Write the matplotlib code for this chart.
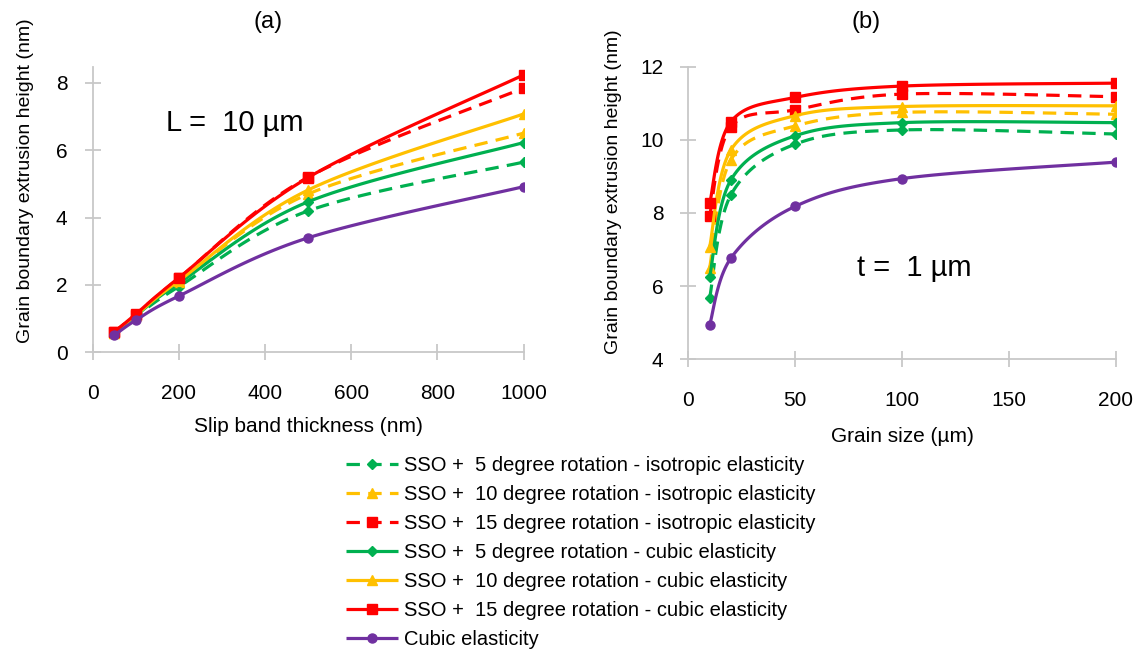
import numpy as np
import matplotlib
matplotlib.use("Agg")
import matplotlib.pyplot as plt

plt.rcParams['font.family'] = ['Liberation Sans', 'DejaVu Sans']

# (a) slip band thickness, L = 10 um
thickness = [50, 100, 200, 500, 1000]
a_iso5 = [0.55, 1.05, 1.95, 4.20, 5.65]
a_iso10 = [0.58, 1.10, 2.10, 4.70, 6.51]
a_iso15 = [0.60, 1.12, 2.20, 5.20, 7.85]
a_cub5 = [0.56, 1.08, 2.05, 4.47, 6.23]
a_cub10 = [0.58, 1.10, 2.12, 4.82, 7.08]
a_cub15 = [0.60, 1.13, 2.21, 5.19, 8.24]
a_cubic = [0.50, 0.95, 1.67, 3.40, 4.92]

# (b) grain size, t = 1 um
grain = [10, 20, 50, 100, 200]
b_iso5 = [5.68, 8.50, 9.88, 10.27, 10.16]
b_iso10 = [6.50, 9.46, 10.38, 10.75, 10.70]
b_iso15 = [7.93, 10.36, 10.82, 11.25, 11.18]
b_cub5 = [6.25, 8.91, 10.11, 10.47, 10.47]
b_cub10 = [7.07, 9.73, 10.66, 10.91, 10.93]
b_cub15 = [8.26, 10.50, 11.16, 11.47, 11.55]
b_cubic = [4.94, 6.77, 8.18, 8.94, 9.39]

labels = ['SSO +  5 degree rotation - isotropic elasticity',
          'SSO +  10 degree rotation - isotropic elasticity',
          'SSO +  15 degree rotation - isotropic elasticity',
          'SSO +  5 degree rotation - cubic elasticity',
          'SSO +  10 degree rotation - cubic elasticity',
          'SSO +  15 degree rotation - cubic elasticity',
          'Cubic elasticity']
colors = ['#00B050', '#FFC000', '#FF0000', '#00B050', '#FFC000', '#FF0000', '#7030A0']
markers = ['D', '^', 's', 'D', '^', 's', 'o']
msizes = [5, 7, 6.5, 5, 7, 6.5, 6.5]
dashed = [True, True, True, False, False, False, False]


def smooth(x, y, n=25):
    # excel-like smoothed line (cardinal bezier segments)
    p = np.column_stack([x, y]).astype(float)
    t = np.linspace(0, 1, n)[:, None]
    segs = []
    for i in range(len(p) - 1):
        p0 = p[max(i - 1, 0)]
        p1 = p[i]
        p2 = p[i + 1]
        p3 = p[min(i + 2, len(p) - 1)]
        c1 = p1 + (p2 - p0) / 6
        c2 = p2 - (p3 - p1) / 6
        b = ((1 - t) ** 3) * p1 + 3 * ((1 - t) ** 2) * t * c1 + 3 * (1 - t) * t ** 2 * c2 + t ** 3 * p2
        segs.append(b if i == 0 else b[1:])
    c = np.vstack(segs)
    idx = [0] + [(n - 1) * (k + 1) for k in range(len(p) - 1)]
    return c[:, 0], c[:, 1], idx


fig = plt.figure(figsize=(11.42, 6.55), dpi=100)
ax1 = fig.add_axes([0.0810, 0.4621, 0.3776, 0.4360])
ax2 = fig.add_axes([0.6027, 0.4515, 0.3743, 0.4467])

series_a = [a_iso5, a_iso10, a_iso15, a_cub5, a_cub10, a_cub15, a_cubic]
series_b = [b_iso5, b_iso10, b_iso15, b_cub5, b_cub10, b_cub15, b_cubic]

for ax, xs, data in [(ax1, thickness, series_a), (ax2, grain, series_b)]:
    for k, ys in enumerate(data):
        sx, sy, idx = smooth(xs, ys)
        line, = ax.plot(sx, sy, color=colors[k], lw=2.3, marker=markers[k],
                        markersize=msizes[k], markevery=idx, label=labels[k],
                        solid_capstyle='butt', dash_capstyle='butt')
        if dashed[k]:
            line.set_dashes((4.2, 2.6))
    for s in ['top', 'right']:
        ax.spines[s].set_visible(False)
    for s in ['left', 'bottom']:
        ax.spines[s].set_color('#C8C8C8')
        ax.spines[s].set_linewidth(1.3)
    ax.tick_params(direction='inout', length=12, width=1.3, color='#C8C8C8',
                   labelsize=15, labelcolor='black')
    ax.tick_params(axis='x', pad=17)
    ax.tick_params(axis='y', pad=12)
    ax.set_ylabel('Grain boundary extrusion height (nm)', fontsize=14)

ax1.set_xlim(0, 1000)
ax1.set_ylim(0, 8.48)
ax1.set_xticks([0, 200, 400, 600, 800, 1000])
ax1.set_yticks([0, 2, 4, 6, 8])
ax1.set_xlabel('Slip band thickness (nm)', fontsize=15)
ax1.yaxis.set_label_coords(-0.135, 0.60)
ax1.xaxis.set_label_coords(0.5, -0.227)
ax1.text(0.17, 0.802, 'L =  10 µm', transform=ax1.transAxes, fontsize=21,
         va='center', ha='left')

ax2.set_xlim(0, 200)
ax2.set_ylim(4, 12)
ax2.set_xticks([0, 50, 100, 150, 200])
ax2.set_yticks([4, 6, 8, 10, 12])
ax2.set_xlabel('Grain size (µm)', fontsize=15)
ax2.yaxis.set_label_coords(-0.155, 0.572)
ax2.xaxis.set_label_coords(0.5, -0.231)
ax2.text(0.394, 0.311, 't =  1 µm', transform=ax2.transAxes, fontsize=21,
         va='center', ha='left')

fig.text(268 / 1142, 1 - 22 / 655, '(a)', fontsize=17, ha='center', va='center')
fig.text(866 / 1142, 1 - 22 / 655, '(b)', fontsize=17, ha='center', va='center')

handles, labs = ax1.get_legend_handles_labels()
fig.legend(handles, labs, loc='upper left', bbox_to_anchor=(346 / 1142, 1 - 456 / 655),
           frameon=False, fontsize=14.5, numpoints=1, handlelength=2.6,
           handletextpad=0.3, labelspacing=0.5, borderaxespad=0, borderpad=0)

fig.savefig('out.png', dpi=100)
